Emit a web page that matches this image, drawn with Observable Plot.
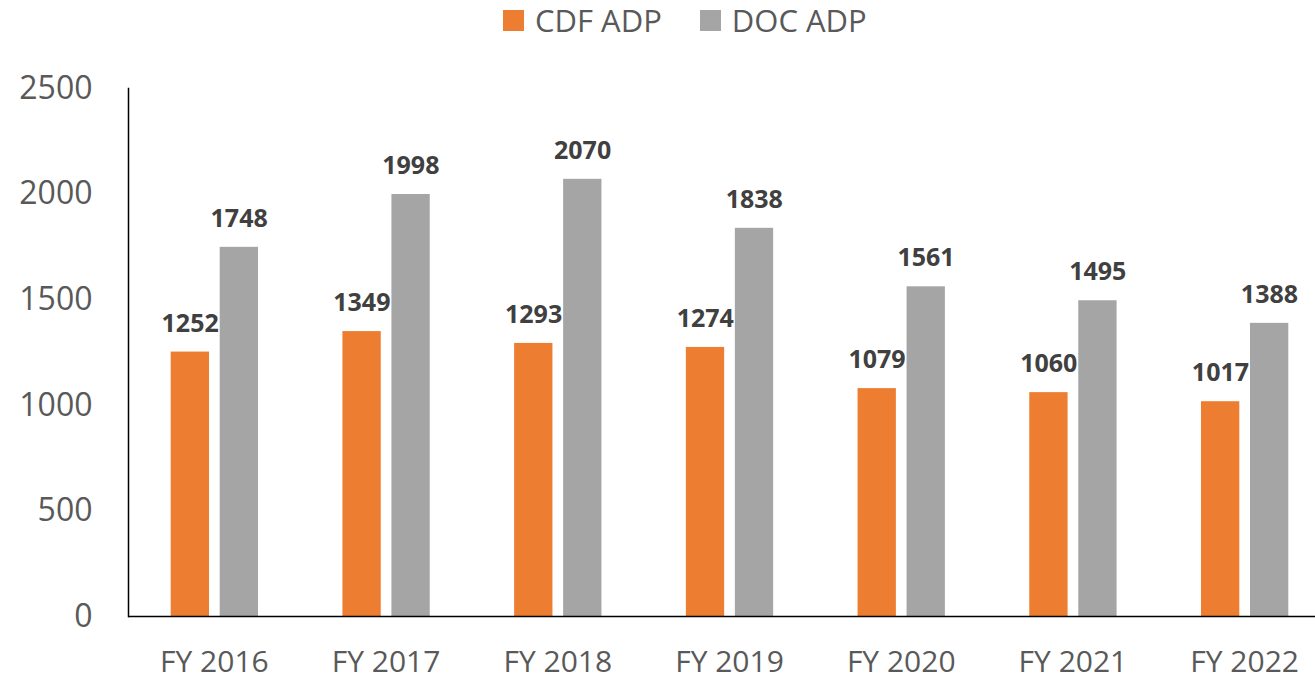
<!DOCTYPE html>
<html>
<head>
<meta charset="utf-8">
<script src="https://cdn.jsdelivr.net/npm/d3@7"></script>
<script src="https://cdn.jsdelivr.net/npm/@observablehq/plot@0.6"></script>
<style>
  html, body { margin: 0; padding: 0; background: white; overflow: hidden; width: 1315px; height: 680px; }
  #legend { position: relative; height: 50px; font-family: "Open Sans", sans-serif; font-size: 31px; color: #595959; }
  #legend .items { position: absolute; left: 503px; top: 0; height: 40px; display: flex; align-items: center; }
  #legend .sw { width: 21px; height: 21px; margin-right: 11px; }
  #legend .lab { line-height: 1; margin-right: 38px; white-space: nowrap; }
  svg { max-width: none !important; display: block; }
</style>
</head>
<body>
<div id="legend"><div class="items"></div></div>
<div id="chart"></div>
<script>
const categories = ["FY 2016", "FY 2017", "FY 2018", "FY 2019", "FY 2020", "FY 2021", "FY 2022"];
const cdfADP = [1252, 1349, 1293, 1274, 1079, 1060, 1017];
const docADP = [1748, 1998, 2070, 1838, 1561, 1495, 1388];
const seriesNames = ["CDF ADP", "DOC ADP"];
const seriesColors = ["#ED7D31", "#A5A5A5"];
const yTicks = [0, 500, 1000, 1500, 2000, 2500];

const cdfRows = categories.map((c, i) => ({category: c, series: seriesNames[0], value: cdfADP[i]}));
const docRows = categories.map((c, i) => ({category: c, series: seriesNames[1], value: docADP[i]}));

// legend
const items = document.querySelector("#legend .items");
seriesNames.forEach((s, i) => {
  const sw = document.createElement("div");
  sw.className = "sw";
  sw.style.background = seriesColors[i];
  const lab = document.createElement("div");
  lab.className = "lab";
  lab.textContent = s;
  items.appendChild(sw);
  items.appendChild(lab);
});

const labelStyle = {fontWeight: "bold", fontSize: 25, fill: "#404040", fontFamily: "'Open Sans', sans-serif", dy: -28.5};

const chart = Plot.plot({
  width: 1330,
  height: 630,
  marginTop: 38,
  marginBottom: 64,
  marginLeft: 128,
  marginRight: 0,
  style: {fontFamily: "'Open Sans', sans-serif", fontSize: "32px", color: "#595959", background: "white", overflow: "visible"},
  x: {domain: categories, padding: 0, round: false, label: null},
  y: {domain: [0, 2500], label: null},
  color: {domain: seriesNames, range: seriesColors},
  marks: [
    Plot.axisY({ticks: yTicks, tickFormat: d => String(d), tickSize: 0, tickPadding: 36, label: null, fontSize: 32, fill: "#595959"}),
    Plot.axisX({tickSize: 0, tickPadding: 34, label: null, fontSize: 30, fill: "#595959"}),
    Plot.barY(cdfRows, {x: "category", y: "value", fill: "series", insetLeft: 42.7, insetRight: 90.7}),
    Plot.barY(docRows, {x: "category", y: "value", fill: "series", insetLeft: 91.7, insetRight: 41.7}),
    Plot.text(cdfRows, {x: "category", y: "value", text: d => String(d.value), dx: -24.2, ...labelStyle}),
    Plot.text(docRows, {x: "category", y: "value", text: d => String(d.value), dx: 24.8, ...labelStyle}),
    Plot.ruleY([0], {stroke: "#000", strokeWidth: 1.5}),
    Plot.frame({anchor: "left", stroke: "#000", strokeWidth: 1.5})
  ]
});
document.getElementById("chart").appendChild(chart);
</script>
</body>
</html>
